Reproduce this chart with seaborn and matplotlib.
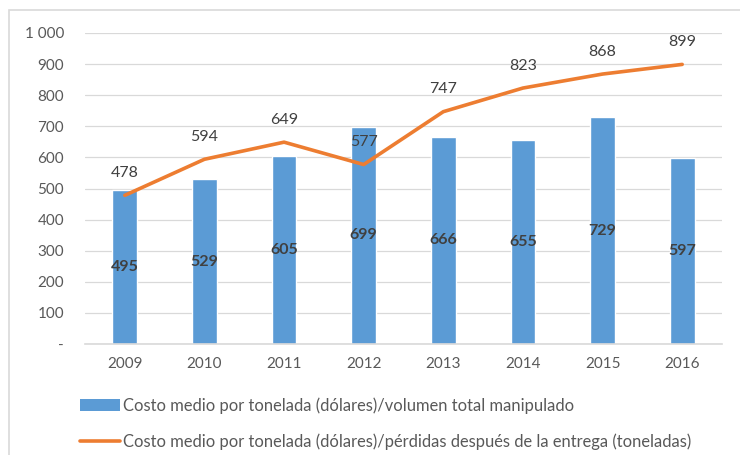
import matplotlib
matplotlib.use("Agg")
import matplotlib.pyplot as plt
import numpy as np
import seaborn as sns
from matplotlib.lines import Line2D
from matplotlib.patches import Patch, Rectangle

years = ["2009", "2010", "2011", "2012", "2013", "2014", "2015", "2016"]
costo_volumen = [495, 529, 605, 699, 666, 655, 729, 597]
costo_perdidas = [478, 594, 649, 577, 747, 823, 868, 899]
y_ticks = [0, 100, 200, 300, 400, 500, 600, 700, 800, 900, 1000]
y_tick_labels = ["-", "100", "200", "300", "400", "500", "600", "700", "800", "900", "1 000"]
serie_barras = "Costo medio por tonelada (dólares)/volumen total manipulado"
serie_linea = "Costo medio por tonelada (dólares)/pérdidas después de la entrega (toneladas)"

BLUE = "#5B9BD5"
ORANGE = "#ED7D31"
TEXT = "#595959"
LABEL = "#404040"
GRID = "#D9D9D9"

sns.set_style("white")
plt.rcParams["font.family"] = ["Lato", "DejaVu Sans"]

W, H = 740, 455
fig = plt.figure(figsize=(W / 100, H / 100), dpi=100)
ax = fig.add_axes([85 / W, 1 - 344 / H, (722 - 85) / W, (344 - 33) / H])

# outer chart frame (left/top visible in the reference)
fig.patches.append(Rectangle((9 / W, -0.05), 1.2, (1 - 10 / H) + 0.05, transform=fig.transFigure,
                             fill=False, edgecolor=GRID, linewidth=1.2))

pos = np.arange(len(years))
sns.barplot(x=years, y=costo_volumen, ax=ax, color=BLUE, width=0.31, saturation=1)
sns.lineplot(x=pos, y=costo_perdidas, ax=ax, color=ORANGE, linewidth=2.6, sort=False)

for i, v in enumerate(costo_volumen):
    ax.text(i, v / 2, f"{v}", ha="center", va="center", fontsize=11.5, fontweight="bold", color=LABEL)
for i, v in enumerate(costo_perdidas):
    ax.annotate(f"{v}", (i, v), xytext=(0, 16), textcoords="offset points",
                ha="center", va="center", fontsize=11.5, color=LABEL)

ax.set_xlim(-0.5, len(years) - 0.5)
ax.set_ylim(0, 1000)
ax.set_yticks(y_ticks)
ax.set_yticklabels(y_tick_labels)
ax.yaxis.grid(True, color=GRID, linewidth=0.9)
ax.set_axisbelow(True)
for s in ["top", "right", "left"]:
    ax.spines[s].set_visible(False)
ax.spines["bottom"].set_color(GRID)
ax.spines["bottom"].set_linewidth(1.2)
ax.tick_params(axis="both", length=0, labelsize=11, labelcolor=TEXT)
ax.tick_params(axis="y", pad=15)
ax.tick_params(axis="x", pad=9)
ax.set_xlabel("")
ax.set_ylabel("")

handles = [Patch(facecolor=BLUE, edgecolor="none"), Line2D([0], [0], color=ORANGE, linewidth=2.6)]
fig.legend(handles, [serie_barras, serie_linea], loc="upper left", bbox_to_anchor=(80 / W, 1 - 397 / H),
           frameon=False, fontsize=11.9, labelcolor=TEXT, handlelength=2.45, handletextpad=0.15,
           labelspacing=1.2, borderaxespad=0, borderpad=0)

fig.savefig("out.png", dpi=100)
